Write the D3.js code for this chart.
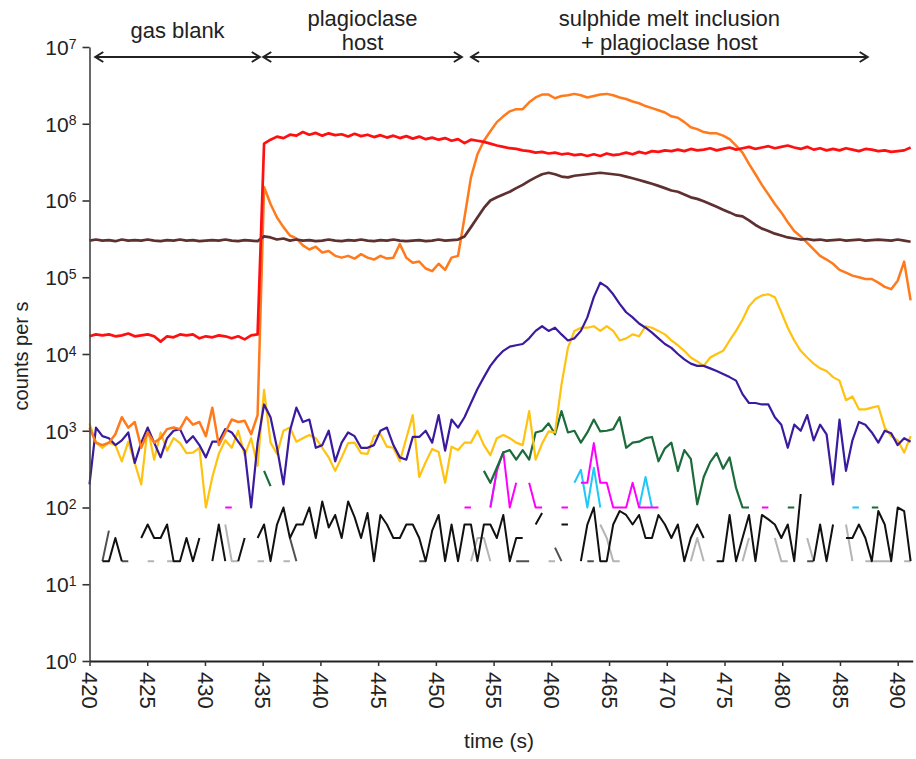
<!DOCTYPE html>
<html>
<head>
<meta charset="utf-8">
<script src="https://cdn.jsdelivr.net/npm/d3@7"></script>
<style>
  body { margin: 0; background: #fff; }
  svg { display: block; font-family: "Liberation Sans", Arial, sans-serif; }
</style>
</head>
<body>
<svg id="chart" width="916" height="759"></svg>
<script>
// Time grid of the acquisition (s), one sweep every 0.56 s
const t0 = 420, dt = 0.56, nSweeps = 128;
const time = d3.range(nSweeps).map(i => +(t0 + i * dt).toFixed(2));

// Signal intensities (counts per s); 0 = no counts recorded in that sweep
const red = [
  17000,18000,17500,18000,17000,17500,18500,17000,17500,18000,
  17000,14500,17000,16500,18000,17500,18000,16000,17000,16500,
  17500,17000,16000,17000,15500,17500,18000,5.5e6,6.2e6,6.8e6,
  6.5e6,7.2e6,7.0e6,7.8e6,7.2e6,7.6e6,7.0e6,7.5e6,7.1e6,7.3e6,
  6.8e6,7.4e6,6.9e6,7.2e6,6.7e6,7.1e6,6.6e6,7.0e6,6.5e6,6.9e6,
  6.4e6,6.8e6,6.3e6,6.6e6,6.2e6,6.5e6,6.0e6,6.3e6,5.6e6,6.2e6,
  6.0e6,5.8e6,5.5e6,5.2e6,5.0e6,4.8e6,4.7e6,4.5e6,4.4e6,4.2e6,
  4.3e6,4.1e6,4.2e6,4.0e6,4.1e6,3.9e6,4.0e6,3.8e6,4.0e6,3.8e6,
  4.1e6,3.9e6,4.0e6,4.2e6,4.0e6,4.3e6,4.1e6,4.4e6,4.3e6,4.5e6,
  4.4e6,4.6e6,4.4e6,4.7e6,4.5e6,4.6e6,4.8e6,4.5e6,4.7e6,4.9e6,
  4.6e6,4.8e6,5.0e6,4.7e6,4.9e6,5.1e6,4.8e6,5.0e6,5.2e6,4.9e6,
  4.7e6,5.0e6,4.6e6,4.8e6,4.5e6,4.7e6,4.5e6,4.8e6,4.6e6,4.4e6,
  4.7e6,4.6e6,4.4e6,4.5e6,4.3e6,4.4e6,4.5e6,4.9e6
];
const brown = [
  3.0e5,3.1e5,3.0e5,3.05e5,2.95e5,3.1e5,3.0e5,3.05e5,3.0e5,3.1e5,
  3.0e5,2.95e5,3.05e5,3.0e5,3.1e5,3.0e5,3.05e5,2.95e5,3.0e5,3.05e5,
  3.0e5,3.1e5,3.0e5,2.95e5,3.05e5,3.0e5,2.95e5,3.4e5,3.3e5,3.1e5,
  3.2e5,3.0e5,3.1e5,3.0e5,3.05e5,2.95e5,3.0e5,3.1e5,3.0e5,2.95e5,
  3.05e5,3.0e5,3.1e5,3.0e5,2.95e5,3.05e5,3.0e5,3.1e5,3.0e5,2.95e5,
  3.0e5,3.05e5,2.95e5,3.0e5,3.1e5,3.0e5,3.05e5,3.1e5,3.4e5,4.5e5,
  6.0e5,8.0e5,1.0e6,1.1e6,1.2e6,1.3e6,1.45e6,1.6e6,1.8e6,2.0e6,
  2.2e6,2.3e6,2.2e6,2.05e6,2.0e6,2.1e6,2.15e6,2.2e6,2.25e6,2.3e6,
  2.25e6,2.2e6,2.15e6,2.05e6,1.95e6,1.85e6,1.75e6,1.65e6,1.55e6,1.45e6,
  1.35e6,1.3e6,1.2e6,1.1e6,1.05e6,9.8e5,9.0e5,8.3e5,7.6e5,7.0e5,
  6.4e5,6.2e5,5.5e5,4.8e5,4.3e5,4.0e5,3.7e5,3.5e5,3.3e5,3.2e5,
  3.1e5,3.15e5,3.05e5,3.1e5,3.0e5,3.05e5,3.1e5,3.0e5,3.05e5,3.1e5,
  3.0e5,3.05e5,3.1e5,3.05e5,3.0e5,3.1e5,3.0e5,2.9e5
];
const orange = [
  1100,700,650,700,900,1500,1100,1300,600,950,
  700,800,1050,1100,1050,1500,1200,1300,850,2000,
  650,950,1400,1300,1350,900,1600,1.5e6,9e5,6e5,
  4.5e5,3.5e5,3.2e5,2.6e5,2.3e5,2.5e5,2.1e5,2.2e5,1.9e5,1.8e5,
  1.9e5,1.75e5,2.0e5,1.8e5,1.7e5,1.9e5,1.75e5,1.8e5,2.7e5,1.8e5,
  1.55e5,1.6e5,1.3e5,1.2e5,1.5e5,1.25e5,1.8e5,1.9e5,6e5,2e6,
  4e6,6e6,8e6,1.05e7,1.25e7,1.45e7,1.55e7,1.55e7,1.9e7,2.2e7,
  2.4e7,2.4e7,2.15e7,2.3e7,2.35e7,2.45e7,2.35e7,2.2e7,2.3e7,2.4e7,
  2.45e7,2.35e7,2.2e7,2.1e7,1.95e7,1.85e7,1.7e7,1.6e7,1.5e7,1.4e7,
  1.25e7,1.2e7,1.05e7,9e6,8.5e6,7.8e6,7.5e6,7.5e6,7e6,6.3e6,
  5.2e6,4.2e6,3e6,2.2e6,1.6e6,1.2e6,9e5,7e5,5.2e5,4e5,
  3.4e5,2.8e5,2.3e5,1.9e5,1.7e5,1.5e5,1.25e5,1.15e5,1.05e5,1e5,
  9.5e4,9.5e4,8.5e4,7.5e4,7e4,9e4,1.6e5,5e4
];
const purple = [
  200,1100,850,800,650,750,950,380,700,1100,
  700,450,800,1000,1050,700,850,650,450,720,
  720,1050,950,720,550,100,700,2200,1500,600,
  200,1000,2000,1300,1400,600,650,1000,400,700,
  950,850,600,600,650,1000,1100,650,450,420,
  830,830,1000,700,1600,550,1400,1100,1500,2300,
  3500,5000,7000,9000,11000,12500,13000,13500,16000,20000,
  23000,20000,22000,18000,15000,16000,20000,30000,55000,85000,
  75000,60000,45000,35000,30000,25000,22000,19000,16000,13500,
  12000,10000,8500,7500,7000,7000,6500,6000,5500,5000,
  4500,3000,2300,2300,2200,2200,1500,1200,600,1200,
  1000,1600,750,1200,900,200,1400,300,750,1300,
  1200,950,700,1000,930,650,800,720
];
const yellow = [
  1250,700,600,700,650,400,720,380,200,1100,
  420,950,550,800,690,510,520,600,100,250,
  500,750,600,1000,480,800,350,3400,700,500,
  1000,1100,720,800,880,800,600,450,300,450,
  690,700,510,500,850,900,620,600,400,800,
  1600,250,390,580,530,210,620,560,700,700,
  1000,650,480,800,880,800,700,650,1800,420,
  680,980,950,4000,12000,20000,22000,22000,23000,20000,
  23000,20000,15000,16000,18000,17000,23000,22000,20000,18000,
  15000,13000,11000,9000,8000,7000,9000,10000,11000,15000,
  20000,28000,42000,52000,58000,60000,55000,35000,22000,15000,
  11000,9000,7500,6500,6000,5000,4500,2500,2800,1900,
  1900,2000,2100,1100,850,750,520,850
];
const green = [
  0,0,0,0,0,0,0,0,0,0,
  0,0,0,0,0,0,0,0,0,0,
  0,0,0,0,0,0,0,300,190,0,
  0,0,0,0,0,0,0,0,0,0,
  0,0,0,0,0,0,0,0,0,0,
  0,0,0,0,0,0,0,0,0,0,
  0,300,210,330,520,560,420,560,420,950,
  1000,1250,900,1800,950,1000,700,950,1400,980,
  1000,1050,1500,600,700,720,800,830,400,590,
  700,300,560,430,110,250,390,510,320,450,
  180,100,100,0,0,0,0,0,100,100,
  0,0,0,0,0,0,0,0,0,0,
  0,100,100,0,0,0,0,0
];
const magenta = [
  0,0,0,0,0,0,0,0,0,0,
  0,0,0,0,0,0,0,0,0,0,
  0,100,100,0,0,0,0,0,0,0,
  0,0,0,0,0,0,0,0,0,0,
  0,0,0,0,0,0,0,0,0,0,
  0,0,0,0,0,0,0,0,100,100,
  0,0,100,300,530,100,210,0,210,100,
  100,0,0,100,100,0,210,210,690,210,
  210,100,100,100,210,100,100,100,100,0,
  0,0,0,0,0,0,0,0,0,0,
  0,0,0,0,100,100,0,0,0,0,
  0,0,0,0,0,0,0,0,0,0,
  0,0,0,0,0,0,0,0
];
const cyan = [
  0,0,0,0,0,0,0,0,0,0,
  0,0,0,0,0,0,0,0,0,0,
  0,0,0,0,0,0,0,0,0,0,
  0,0,0,0,0,0,0,0,0,0,
  0,0,0,0,0,0,0,0,0,0,
  0,0,0,0,0,0,0,0,0,0,
  0,0,100,300,0,0,0,0,0,0,
  0,0,0,0,0,210,310,100,330,100,
  0,0,0,0,0,100,250,100,0,0,
  0,0,0,0,0,0,0,0,0,0,
  0,0,0,0,0,0,0,0,0,0,
  0,0,0,0,0,0,0,0,100,100,
  0,0,0,0,0,0,0,0
];
const black = [
  0,0,20,20,40,20,0,0,40,60,
  40,40,60,20,20,40,20,40,0,20,
  60,20,0,20,40,0,40,60,20,60,
  100,40,60,60,100,40,120,55,80,40,
  120,75,40,85,20,80,60,40,40,60,
  60,40,20,50,80,20,60,20,60,60,
  20,60,60,40,80,20,40,40,0,60,
  85,0,0,60,60,0,20,60,100,20,
  20,60,90,80,60,80,40,40,80,60,
  40,60,20,40,60,40,0,20,20,80,
  20,40,80,20,80,70,60,40,60,20,
  150,0,20,60,20,60,0,40,40,60,
  40,20,90,60,20,100,90,20
];
const lightGray = [
  0,0,0,0,0,0,0,0,0,20,
  20,0,20,20,0,0,0,0,0,0,
  0,60,20,20,0,0,20,20,0,0,
  20,20,0,0,0,0,0,0,0,0,
  0,0,0,0,0,0,0,0,0,0,
  0,0,0,0,0,0,0,0,0,20,
  40,40,20,0,0,0,0,0,0,0,
  0,20,20,0,0,0,0,0,0,60,
  40,20,20,0,0,0,0,0,0,0,
  0,0,0,20,40,20,0,0,0,0,
  0,20,40,0,0,0,40,20,20,0,
  0,40,20,0,0,0,0,60,20,0,
  20,20,20,20,20,0,20,20
];
const darkGray = [
  0,0,20,50,0,20,20,0,0,0,
  0,0,0,0,0,0,0,0,0,0,
  0,0,0,0,0,0,0,0,0,0,
  0,40,20,0,0,0,0,0,0,0,
  0,0,0,0,0,0,0,0,0,0,
  0,20,20,0,0,0,0,0,0,0,
  0,0,0,0,0,0,20,20,20,0,
  0,0,30,20,0,0,0,20,20,0,
  0,0,0,0,0,0,0,0,0,0,
  0,0,0,0,0,0,0,0,0,0,
  0,0,0,0,0,0,0,0,0,0,
  0,20,20,0,0,0,0,0,0,0,
  0,0,0,0,0,0,0,0
];

// Axis ticks and their printed labels
const xTicks = [420, 425, 430, 435, 440, 445, 450, 455, 460, 465, 470, 475, 480, 485, 490];
const yTicks = [1e8, 1e7, 1e6, 1e5, 1e4, 1e3, 1e2, 1e1, 1e0];
const yTickExponents = ["7", "8", "6", "5", "4", "3", "2", "1", "0"];

// Analysis intervals marked above the plot (s)
const phaseNames = [["gas blank"], ["plagioclase", "host"], ["sulphide melt inclusion", "+ plagioclase host"]];
const phaseStart = [420.5, 435.05, 453.05];
const phaseEnd = [434.75, 452.25, 487.4];

const svg = d3.select("#chart");
const font = '"Liberation Sans", Arial, sans-serif';

const x = d3.scaleLinear().domain([420, 491.3]).range([89.5, 912.7]);
const y = d3.scaleLog().domain([1, 1e8]).range([661, 47]);

// traces, drawn from the faint background channels up to the major ones
const traces = [
  { values: lightGray, color: "#b4b4b4", width: 2 },
  { values: darkGray,  color: "#505050", width: 2 },
  { values: black,     color: "#111111", width: 2 },
  { values: cyan,      color: "#1ec8f8", width: 2 },
  { values: magenta,   color: "#ff00ff", width: 2 },
  { values: green,     color: "#1b6b3b", width: 2.2 },
  { values: yellow,    color: "#ffc20e", width: 2.2 },
  { values: purple,    color: "#3a1a9e", width: 2.2 },
  { values: orange,    color: "#ff7a1c", width: 2.5 },
  { values: brown,     color: "#5e3030", width: 2.7 },
  { values: red,       color: "#ff1010", width: 2.7 }
];

const line = d3.line()
  .defined(d => d.v > 0)
  .x(d => x(d.t))
  .y(d => y(d.v));

const gTraces = svg.append("g");
traces.forEach(tr => {
  const pts = time.map((t, i) => ({ t: t, v: tr.values[i] }));
  gTraces.append("path")
    .datum(pts)
    .attr("fill", "none")
    .attr("stroke", tr.color)
    .attr("stroke-width", tr.width)
    .attr("stroke-linejoin", "round")
    .attr("d", line);
});

// y axis with powers of ten
const gy = svg.append("g")
  .attr("transform", `translate(${x(420)},0)`)
  .call(d3.axisLeft(y).tickValues(yTicks).tickSize(7).tickSizeOuter(0).tickFormat(""));
gy.select(".domain").attr("stroke", "#444").attr("stroke-width", 1.6);
gy.selectAll(".tick line").attr("stroke", "#333").attr("stroke-width", 1.6);
gy.selectAll(".tick").each(function (d, i) {
  const txt = d3.select(this).append("text")
    .attr("x", -13).attr("dy", "0.35em")
    .attr("text-anchor", "end")
    .attr("fill", "#222")
    .style("font-family", font)
    .style("font-size", "21px");
  txt.append("tspan").text("10");
  txt.append("tspan").attr("dy", "-0.45em").style("font-size", "14px").text(yTickExponents[i]);
});

// x axis with rotated labels
const gx = svg.append("g")
  .attr("transform", `translate(0,${y(1)})`)
  .call(d3.axisBottom(x).tickValues(xTicks).tickSize(5).tickSizeOuter(0).tickFormat(d3.format("d")));
gx.select(".domain").attr("stroke", "#222").attr("stroke-width", 1.8);
gx.selectAll(".tick line").attr("stroke", "#333").attr("stroke-width", 1.5);
gx.selectAll(".tick text")
  .attr("transform", "rotate(90)")
  .attr("x", 11).attr("y", 0).attr("dy", "0.35em")
  .attr("text-anchor", "start")
  .attr("fill", "#222")
  .style("font-family", font)
  .style("font-size", "22px");

// axis titles
svg.append("text")
  .attr("transform", `translate(28,356) rotate(-90)`)
  .attr("text-anchor", "middle")
  .attr("fill", "#222")
  .style("font-family", font).style("font-size", "20px")
  .text("counts per s");
svg.append("text")
  .attr("x", (x(420) + x(491.3)) / 2 - 2).attr("y", 748)
  .attr("text-anchor", "middle")
  .attr("fill", "#222")
  .style("font-family", font).style("font-size", "21px")
  .text("time (s)");

// interval arrows and names
const arrowY = 57, head = 8, spread = 5;
const gPhase = svg.append("g").attr("stroke", "#222").attr("stroke-width", 2).attr("fill", "none");
phaseNames.forEach((names, k) => {
  const a = x(phaseStart[k]), b = x(phaseEnd[k]);
  gPhase.append("line").attr("x1", a).attr("x2", b).attr("y1", arrowY).attr("y2", arrowY);
  gPhase.append("path").attr("d", `M${a + head},${arrowY - spread}L${a},${arrowY}L${a + head},${arrowY + spread}`);
  gPhase.append("path").attr("d", `M${b - head},${arrowY - spread}L${b},${arrowY}L${b - head},${arrowY + spread}`);
  const cx = (a + b) / 2;
  const baselines = names.length === 1 ? [38] : [26, 50];
  names.forEach((s, j) => {
    svg.append("text")
      .attr("x", cx).attr("y", baselines[j])
      .attr("text-anchor", "middle")
      .attr("fill", "#222")
      .style("font-family", font).style("font-size", "22px")
      .text(s);
  });
});
</script>
</body>
</html>
